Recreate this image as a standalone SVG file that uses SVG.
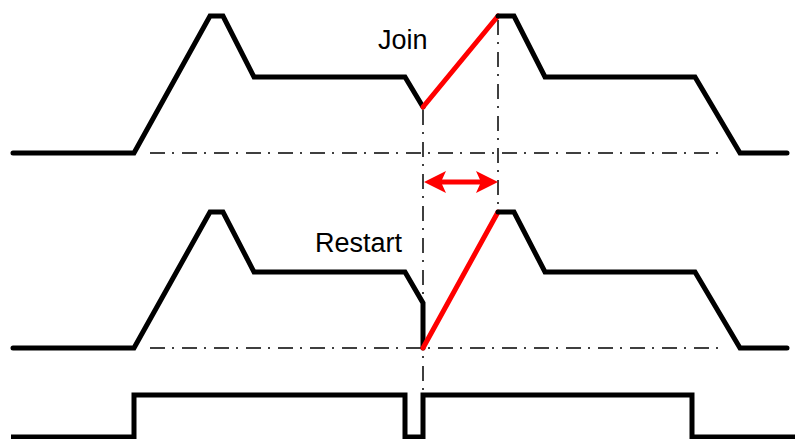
<svg xmlns="http://www.w3.org/2000/svg" width="795" height="439" viewBox="0 0 795 439">
<style>
.w{fill:none;stroke:#000;stroke-width:5;stroke-linejoin:miter;stroke-linecap:round}
.r{fill:none;stroke:#ff0000;stroke-width:5;stroke-linecap:round}
.dd{fill:none;stroke:#000;stroke-width:1.5;stroke-dasharray:15 7 2 8}
.t{font-family:"Liberation Sans",Arial,sans-serif;font-size:27px;fill:#000}
</style>
<rect width="795" height="439" fill="#fff"/>
<g id="connectors">
<line class="dd" x1="150" y1="153" x2="725" y2="153"/>
<line class="dd" x1="150" y1="348" x2="725" y2="348"/>
<line class="dd" x1="423" y1="110" x2="423" y2="439"/>
<line class="dd" x1="498" y1="20" x2="498" y2="209"/>
<g id="arrow">
<line x1="438" y1="182" x2="484" y2="182" stroke="#ff0000" stroke-width="5"/>
<polygon points="424,182 446,171 441,182 446,193" fill="#ff0000"/>
<polygon points="498,182 476,171 481,182 476,193" fill="#ff0000"/>
</g>
</g>
<g id="join-trace">
<path class="w" d="M13,153 L134,153 L210,16 L223,16 L254,77 L405,77 L423,107"/>
<path class="r" d="M423,107 L498,16"/>
<path class="w" d="M498,16 L514,16 L545,77 L695,77 L740,153 L787,153"/>
</g>
<g id="restart-trace">
<path class="w" d="M13,348 L134,348 L210,212 L223,212 L254,272 L405,272 L423,303 L423,348"/>
<path class="r" d="M423,348 L498,212"/>
<path class="w" d="M498,212 L514,212 L545,272 L695,272 L740,348 L787,348"/>
</g>
<g id="signal">
<path class="w" style="stroke-linecap:butt" d="M11,437 L134,437 L134,395 L405,395 L405,437 L423,437 L423,395 L692,395 L692,437 L795,437"/>
</g>
<g id="label-join"><text class="t" x="378" y="49">Join</text></g>
<g id="label-restart"><text class="t" x="315" y="252">Restart</text></g>
</svg>
